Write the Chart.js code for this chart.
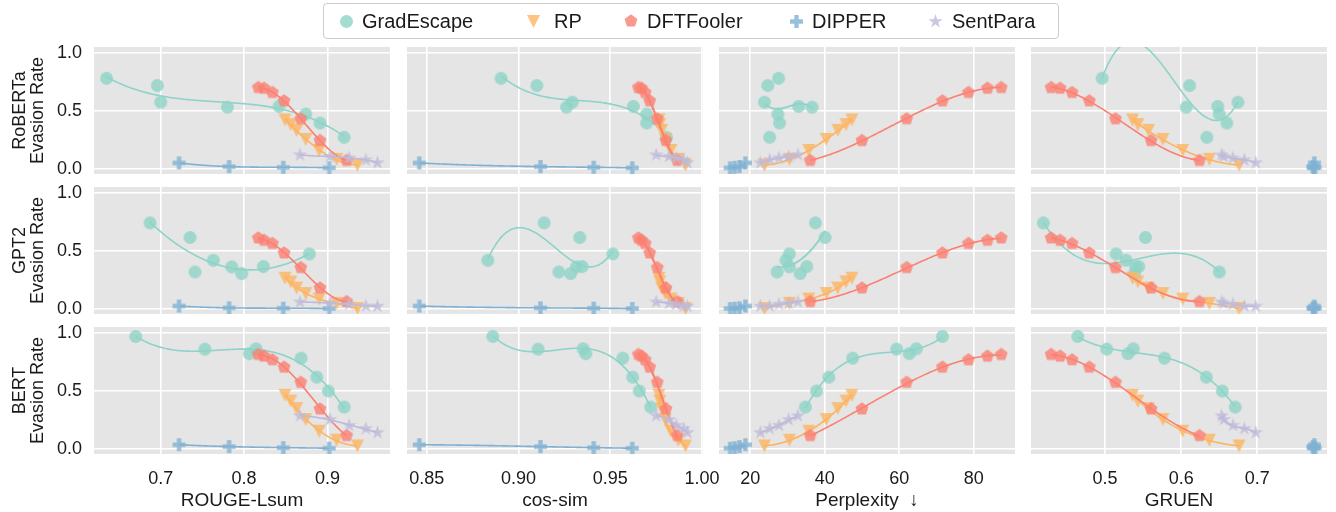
<!DOCTYPE html>
<html lang="en">
<head>
<meta charset="UTF-8">
<title>Evasion rate vs. text quality</title>
<script src="https://cdn.jsdelivr.net/npm/chart.js"></script>
<style>
  body { margin: 0; background: #fff; font-family: "Liberation Sans", Arial, sans-serif; }
  #wrap { position: relative; width: 1336px; height: 512px; overflow: hidden; }
  #wrap canvas.panel { position: absolute; }
  #legend {
    position: absolute; left: 323px; top: 3px; width: 736px; height: 36px;
    box-sizing: border-box; border: 1px solid #cccccc; border-radius: 4px;
    background: rgba(255,255,255,0.85); z-index: 5; font-size: 20px; color: #1a1a1a;
  }
  #legend .item { position: absolute; top: 0; height: 34px; display: flex; align-items: center; white-space: nowrap; }
  #legend .item canvas { margin-right: 7px; }
</style>
</head>
<body>
<div id="wrap">
  <div id="legend"></div>
</div>

<script>
// ---- axis setup ----
const metricTitles = ['ROUGE-Lsum', 'cos-sim', 'Perplexity  \u2193', 'GRUEN'];
const detectorNames = ['RoBERTa', 'GPT2', 'BERT'];
const attackNames = ['GradEscape', 'RP', 'DFTFooler', 'DIPPER', 'SentPara'];
const attackColors = ['#8dd3c7', '#fdb462', '#fb8072', '#80b1d3', '#bebada'];
const attackShapes = ['circle', 'triangleDown', 'pentagon', 'plus', 'star'];
const attackMarkSize = [13, 13, 13.5, 13, 15];

const rougeTicks = [0.7, 0.8, 0.9];
const rougeTickLabels = ['0.7', '0.8', '0.9'];
const cosTicks = [0.85, 0.90, 0.95, 1.00];
const cosTickLabels = ['0.85', '0.90', '0.95', '1.00'];
const pplTicks = [20, 40, 60, 80];
const pplTickLabels = ['20', '40', '60', '80'];
const gruenTicks = [0.5, 0.6, 0.7];
const gruenTickLabels = ['0.5', '0.6', '0.7'];
const rateTicks = [0, 0.5, 1.0];
const rateTickLabels = ['0.0', '0.5', '1.0'];

const xRanges = [[0.620, 0.975], [0.8393, 1.0005], [11.6, 91.1], [0.4026, 0.7916]];
const yRange = [-0.047, 1.05];

// ---- RP (weak -> strong), same texts for every detector ----
const rpRouge = [0.936, 0.911, 0.890, 0.874, 0.863, 0.856, 0.849];
const rpCos = [0.991, 0.987, 0.983, 0.980, 0.978, 0.977, 0.9765];
const rpPpl = [23.8, 30.5, 35.7, 40.4, 43.5, 45.7, 47.3];
const rpGruen = [0.676, 0.637, 0.602, 0.576, 0.557, 0.543, 0.536];
const rpRoberta = [0.03, 0.08, 0.156, 0.252, 0.33, 0.38, 0.42];
const rpGpt2 = [0.0, 0.045, 0.082, 0.13, 0.177, 0.23, 0.262];
const rpBert = [0.023, 0.072, 0.15, 0.25, 0.345, 0.41, 0.46];

// ---- DFTFooler ----
const dftRouge = [0.923, 0.891, 0.868, 0.848, 0.834, 0.824, 0.817];
const dftCos = [0.9865, 0.9803, 0.9756, 0.9715, 0.969, 0.967, 0.9653];
const dftPpl = [36.1, 50.0, 62.0, 71.6, 78.6, 83.7, 87.4];
const dftGruen = [0.624, 0.5605, 0.5136, 0.4793, 0.4566, 0.4408, 0.429];
const dftRoberta = [0.07, 0.242, 0.43, 0.585, 0.657, 0.694, 0.70];
const dftGpt2 = [0.06, 0.178, 0.354, 0.48, 0.562, 0.59, 0.61];
const dftBert = [0.112, 0.342, 0.572, 0.703, 0.767, 0.798, 0.813];

// ---- DIPPER ----
const dipperRouge = [0.902, 0.847, 0.782, 0.722];
const dipperCos = [0.962, 0.941, 0.912, 0.846];
const dipperPpl = [14.6, 15.8, 17.1, 18.7];
const dipperGruen = [0.774, 0.776, 0.773, 0.775];
const dipperRoberta = [0.006, 0.011, 0.017, 0.049];
const dipperGpt2 = [0.0, 0.003, 0.006, 0.022];
const dipperBert = [0.003, 0.008, 0.017, 0.033];

// ---- SentPara ----
const sentRouge = [0.960, 0.946, 0.926, 0.903, 0.867];
const sentCos = [0.992, 0.990, 0.986, 0.982, 0.975];
const sentPpl = [22.7, 25.2, 27.7, 30.3, 32.8];
const sentGruen = [0.698, 0.683, 0.668, 0.656, 0.653];
const sentRoberta = [0.05, 0.075, 0.092, 0.104, 0.118];
const sentGpt2 = [0.02, 0.022, 0.037, 0.045, 0.057];
const sentBert = [0.138, 0.172, 0.2, 0.25, 0.283];

// ---- GradEscape: texts differ per target detector ----
const gradRobertaRouge = [0.635, 0.696, 0.700, 0.780, 0.842, 0.874, 0.891, 0.920];
const gradRobertaCos = [0.8905, 0.910, 0.9293, 0.9262, 0.9626, 0.9698, 0.9698, 0.9806];
const gradRobertaPpl = [27.6, 24.7, 23.8, 36.6, 33.0, 27.4, 27.85, 25.2];
const gradRobertaGruen = [0.496, 0.611, 0.6746, 0.6066, 0.648, 0.650, 0.660, 0.6337];
const gradRoberta = [0.78, 0.717, 0.573, 0.53, 0.537, 0.47, 0.393, 0.27];

const gradGpt2Rouge = [0.6872, 0.7352, 0.7412, 0.7631, 0.7852, 0.7972, 0.8231, 0.8783];
const gradGpt2Cos = [0.914, 0.9334, 0.922, 0.8833, 0.9316, 0.9284, 0.9347, 0.9514];
const gradGpt2Ppl = [37.5, 40.1, 27.2, 29.6, 30.5, 33.4, 35.2, 30.5];
const gradGpt2Gruen = [0.4188, 0.553, 0.650, 0.5276, 0.540, 0.5386, 0.5442, 0.5145];
const gradGpt2 = [0.74, 0.614, 0.316, 0.417, 0.36, 0.302, 0.363, 0.472];

const gradBertRouge = [0.670, 0.753, 0.8063, 0.8144, 0.8684, 0.8872, 0.9011, 0.920];
const gradBertCos = [0.886, 0.9107, 0.9367, 0.9352, 0.9568, 0.9622, 0.9658, 0.972];
const gradBertPpl = [71.6, 59.3, 62.7, 64.6, 47.5, 41.1, 37.8, 34.8];
const gradBertGruen = [0.464, 0.502, 0.530, 0.537, 0.578, 0.633, 0.654, 0.671];
const gradBert = [0.968, 0.859, 0.82, 0.862, 0.781, 0.617, 0.497, 0.358];

const metricTicks = [rougeTicks, cosTicks, pplTicks, gruenTicks];
const metricTickLabels = [rougeTickLabels, cosTickLabels, pplTickLabels, gruenTickLabels];

const attackX = [
  null,
  [rpRouge, rpCos, rpPpl, rpGruen],
  [dftRouge, dftCos, dftPpl, dftGruen],
  [dipperRouge, dipperCos, dipperPpl, dipperGruen],
  [sentRouge, sentCos, sentPpl, sentGruen]
];
const gradX = [
  [gradRobertaRouge, gradRobertaCos, gradRobertaPpl, gradRobertaGruen],
  [gradGpt2Rouge, gradGpt2Cos, gradGpt2Ppl, gradGpt2Gruen],
  [gradBertRouge, gradBertCos, gradBertPpl, gradBertGruen]
];
const attackY = [
  [gradRoberta, gradGpt2, gradBert],
  [rpRoberta, rpGpt2, rpBert],
  [dftRoberta, dftGpt2, dftBert],
  [dipperRoberta, dipperGpt2, dipperBert],
  [sentRoberta, sentGpt2, sentBert]
];

// ---- marker sprites ----
function tracePath(ctx, shape, s) {
  const h = s / 2;
  ctx.beginPath();
  if (shape === 'circle') {
    ctx.arc(0, 0, h, 0, Math.PI * 2);
  } else if (shape === 'triangleDown') {
    ctx.moveTo(0, h); ctx.lineTo(-h, -h); ctx.lineTo(h, -h); ctx.closePath();
  } else if (shape === 'pentagon') {
    for (let i = 0; i < 5; i++) {
      const a = -Math.PI / 2 + i * 2 * Math.PI / 5;
      ctx.lineTo(h * Math.cos(a), h * Math.sin(a));
    }
    ctx.closePath();
  } else if (shape === 'star') {
    const inner = h * 0.381966;
    for (let i = 0; i < 10; i++) {
      const a = -Math.PI / 2 + i * Math.PI / 5;
      const r = i % 2 ? inner : h;
      ctx.lineTo(r * Math.cos(a), r * Math.sin(a));
    }
    ctx.closePath();
  } else if (shape === 'plus') {
    const t = s / 6;
    ctx.moveTo(-t, -h); ctx.lineTo(t, -h); ctx.lineTo(t, -t); ctx.lineTo(h, -t);
    ctx.lineTo(h, t); ctx.lineTo(t, t); ctx.lineTo(t, h); ctx.lineTo(-t, h);
    ctx.lineTo(-t, t); ctx.lineTo(-h, t); ctx.lineTo(-h, -t); ctx.lineTo(-t, -t);
    ctx.closePath();
  }
}
function markerSprite(shape, color, size) {
  const c = document.createElement('canvas');
  c.width = c.height = Math.ceil(size) + 4;
  const ctx = c.getContext('2d');
  ctx.translate(c.width / 2, c.height / 2);
  ctx.globalAlpha = 0.8;
  ctx.fillStyle = color;
  tracePath(ctx, shape, size);
  ctx.fill();
  return c;
}
const sprites = attackShapes.map((s, i) => markerSprite(s, attackColors[i], attackMarkSize[i]));

// ---- least-squares cubic trend through a series ----
function trendLine(xs, ys, steps) {
  const n = xs.length;
  const m = Math.min(3, n - 1) + 1;
  const lo = Math.min(...xs), hi = Math.max(...xs);
  const mid = (lo + hi) / 2, half = (hi - lo) / 2 || 1;
  const A = [];
  for (let a = 0; a < m; a++) A.push(new Array(m + 1).fill(0));
  for (let i = 0; i < n; i++) {
    const t = (xs[i] - mid) / half;
    const p = [];
    for (let k = 0; k < m; k++) p.push(Math.pow(t, k));
    for (let a = 0; a < m; a++) {
      for (let b = 0; b < m; b++) A[a][b] += p[a] * p[b];
      A[a][m] += p[a] * ys[i];
    }
  }
  for (let col = 0; col < m; col++) {
    let piv = col;
    for (let r = col + 1; r < m; r++) if (Math.abs(A[r][col]) > Math.abs(A[piv][col])) piv = r;
    [A[col], A[piv]] = [A[piv], A[col]];
    for (let r = 0; r < m; r++) {
      if (r === col) continue;
      const f = A[r][col] / A[col][col];
      for (let k = col; k <= m; k++) A[r][k] -= f * A[col][k];
    }
  }
  const coef = A.map((row, i) => row[m] / row[i]);
  const out = [];
  for (let s = 0; s <= steps; s++) {
    const x = lo + (hi - lo) * s / steps;
    const t = (x - mid) / half;
    let y = 0;
    for (let k = 0; k < m; k++) y += coef[k] * Math.pow(t, k);
    out.push({ x: x, y: y });
  }
  return out;
}

// grey panel background like the ggplot style
const panelBg = {
  id: 'panelBg',
  beforeDraw(chart) {
    const { ctx, chartArea: a } = chart;
    ctx.save();
    ctx.fillStyle = '#e5e5e5';
    ctx.fillRect(a.left, a.top, a.right - a.left, a.bottom - a.top);
    ctx.restore();
  }
};

// ---- panel grid geometry ----
const colLeft = [94, 407, 719, 1031];
const rowTop = [47, 187, 327];
const plotW = 296, plotH = 127;
const PAD = 20, Y_AXIS_W = 94, X_AXIS_H = 58;
const textColor = '#1a1a1a';
const fontFamily = '"Liberation Sans", Arial, sans-serif';

const wrap = document.getElementById('wrap');

for (let r = 0; r < 3; r++) {
  for (let c = 0; c < 4; c++) {
    const leftCol = c === 0, bottomRow = r === 2;
    const canvas = document.createElement('canvas');
    canvas.className = 'panel';
    const left = leftCol ? 0 : colLeft[c] - PAD;
    const top = rowTop[r] - PAD;
    canvas.width = (leftCol ? Y_AXIS_W : PAD) + plotW + PAD;
    canvas.height = PAD + plotH + (bottomRow ? X_AXIS_H : PAD);
    canvas.style.left = left + 'px';
    canvas.style.top = top + 'px';
    wrap.appendChild(canvas);

    const datasets = [];
    for (let k = 0; k < attackNames.length; k++) {
      const xs = k === 0 ? gradX[r][c] : attackX[k][c];
      const ys = attackY[k][r];
      const pts = xs.map((x, i) => ({ x: x, y: ys[i] }));
      datasets.push({
        label: attackNames[k],
        data: pts,
        pointStyle: sprites[k],
        pointRadius: attackMarkSize[k] / 2,
        showLine: false,
        order: 2 * (5 - k) + 1
      });
      datasets.push({
        label: attackNames[k] + ' trend',
        data: trendLine(xs, ys, 120),
        showLine: true,
        pointRadius: 0,
        borderColor: attackColors[k],
        borderWidth: 1.6,
        fill: false,
        order: 2 * (5 - k)
      });
    }

    const ticksX = metricTicks[c], labelsX = metricTickLabels[c];
    new Chart(canvas, {
      type: 'scatter',
      data: { datasets: datasets },
      options: {
        responsive: false,
        animation: false,
        events: [],
        layout: { padding: { top: PAD, right: PAD, bottom: bottomRow ? 0 : PAD, left: leftCol ? 0 : PAD } },
        plugins: { legend: { display: false }, tooltip: { enabled: false } },
        scales: {
          x: {
            type: 'linear',
            min: xRanges[c][0],
            max: xRanges[c][1],
            afterBuildTicks: s => { s.ticks = ticksX.map(v => ({ value: v })); },
            afterFit: s => {
              s.height = bottomRow ? X_AXIS_H : 0;
              s.paddingLeft = s.paddingRight = s.paddingTop = s.paddingBottom = 0;
            },
            grid: { color: '#ffffff', lineWidth: 1.6, drawTicks: false },
            border: { display: false },
            ticks: {
              display: bottomRow,
              autoSkip: false,
              maxRotation: 0,
              padding: 14,
              color: textColor,
              font: { family: fontFamily, size: 18 },
              callback: (v, i) => labelsX[i]
            },
            title: {
              display: bottomRow,
              text: metricTitles[c],
              color: textColor,
              font: { family: fontFamily, size: 19 },
              padding: { top: 0, bottom: 0 }
            }
          },
          y: {
            type: 'linear',
            min: yRange[0],
            max: yRange[1],
            afterBuildTicks: s => { s.ticks = rateTicks.map(v => ({ value: v })); },
            afterFit: s => {
              s.width = leftCol ? Y_AXIS_W : 0;
              s.paddingLeft = s.paddingRight = s.paddingTop = s.paddingBottom = 0;
            },
            grid: { color: '#ffffff', lineWidth: 1.6, drawTicks: false },
            border: { display: false },
            ticks: {
              display: leftCol,
              padding: 12,
              color: textColor,
              font: { family: fontFamily, size: 18 },
              callback: (v, i) => rateTickLabels[i]
            },
            title: {
              display: leftCol,
              text: [detectorNames[r], 'Evasion Rate'],
              color: textColor,
              font: { family: fontFamily, size: 18, lineHeight: 1.0 },
              padding: { top: 11, bottom: 0 }
            }
          }
        }
      },
      plugins: [panelBg]
    });
  }
}

// ---- legend ----
const legendLeft = [14, 201, 298, 464, 602];
const legendGap = [7, 12, 7, 7, 7];
const legend = document.getElementById('legend');
attackNames.forEach((name, k) => {
  const item = document.createElement('div');
  item.className = 'item';
  item.style.left = legendLeft[k] + 'px';
  const icon = markerSprite(attackShapes[k], attackColors[k], attackMarkSize[k]);
  icon.style.marginRight = legendGap[k] + 'px';
  item.appendChild(icon);
  const label = document.createElement('span');
  label.textContent = name;
  item.appendChild(label);
  legend.appendChild(item);
});
</script>
</body>
</html>
